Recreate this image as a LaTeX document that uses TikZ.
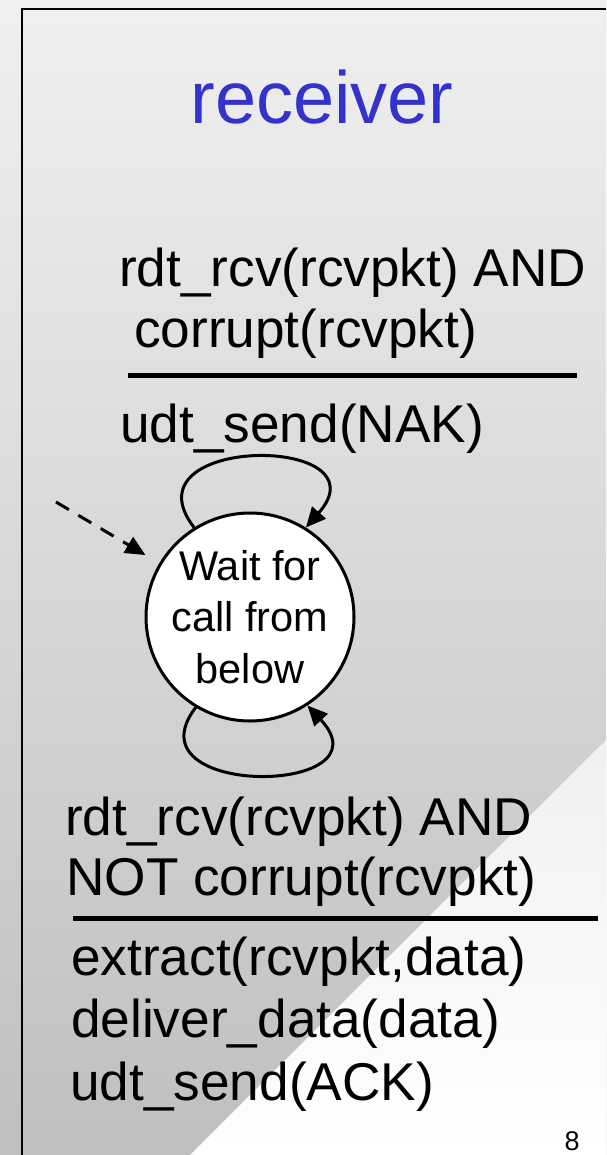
\documentclass[tikz,border=0pt]{standalone}
\usepackage{fontspec}
\setmainfont{Liberation Sans}
\usetikzlibrary{arrows.meta, positioning}
\definecolor{titleblue}{RGB}{51,51,204}
\tikzset{x=1pt, y=1pt,
         wait state/.style={draw, circle, fill=white, line width=3pt,
                            minimum size=208pt, inner sep=0pt, align=center,
                            font=\fontsize{41.5}{51.5}\selectfont},
         fsm text/.style={anchor=base west, inner sep=0pt,
                          font=\fontsize{53.2}{62}\selectfont},
         guard bar/.style={line width=5pt},
         loop arrow/.style={line width=3pt, -{Triangle[length=20pt,width=18pt]}},
         init arrow/.style={loop arrow, dash pattern=on 15pt off 11pt}}

\begin{document}
\begin{tikzpicture}
\useasboundingbox (0,0) rectangle (606,-1155);
\clip (0,0) rectangle (606,-1155);
% slide background
\shade[top color=black!6, middle color=black!19, bottom color=black!25]
    (0,0) rectangle (606,-1155);
\shade[top color=black!6, bottom color=white]
    (606,-740) -- (190,-1155) -- (606,-1155) -- cycle;
\draw[line width=2pt] (22,-9) rectangle (650,-1200);
% title
\node[anchor=base, inner sep=0pt, text=titleblue,
      font=\fontsize{74}{88}\selectfont] (title) at (322,-124) {receiver};
% the one state
\node[wait state] (wait) at (250,-617) {Wait for\\call from\\below};
\coordinate (init) at (56,-502);
\draw[init arrow, shorten >=16pt] (init) -- (wait);
\draw[loop arrow] (wait.122) .. controls (122,-434) and (388,-434) .. (wait.58);
\draw[loop arrow] (wait.239) .. controls (126,-799) and (392,-796) .. (wait.303);
% corrupt packet: send NAK
\node[fsm text] (nakev1) at (119,-287) {rdt\_rcv(rcvpkt) AND};
\node[fsm text] (nakev2) at (134,-347) {corrupt(rcvpkt)};
\coordinate (nakbarl) at (128,-375);
\coordinate (nakbarr) at (577,-375);
\draw[guard bar] (nakbarl) -- (nakbarr);
\node[fsm text] (nakact) at (120,-442) {udt\_send(NAK)};
% good packet: deliver, send ACK
\node[fsm text] (ackev1) at (65,-835) {rdt\_rcv(rcvpkt) AND};
\node[fsm text] (ackev2) at (66,-895) {NOT corrupt(rcvpkt)};
\coordinate (ackbarl) at (73,-918);
\coordinate (ackbarr) at (598,-918);
\draw[guard bar] (ackbarl) -- (ackbarr);
\node[fsm text] (ackact1) at (71,-975) {extract(rcvpkt,data)};
\node[fsm text] (ackact2) at (71,-1037) {deliver\_data(data)};
\node[fsm text] (ackact3) at (70,-1100) {udt\_send(ACK)};
% page number
\node[anchor=base, inner sep=0pt, font=\fontsize{27}{32}\selectfont]
    (pageno) at (572,-1150) {8};
\end{tikzpicture}
\end{document}
